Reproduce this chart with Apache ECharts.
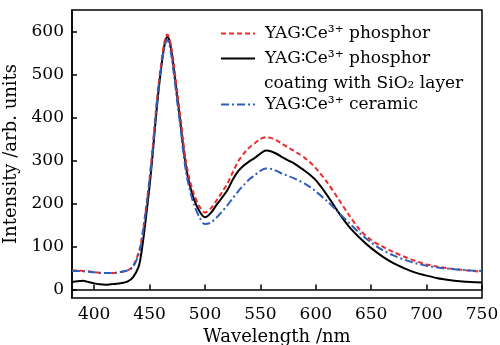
<!DOCTYPE html>
<html>
<head>
<meta charset="utf-8">
<script src="https://cdn.jsdelivr.net/npm/echarts@6/dist/echarts.min.js"></script>
<style>html,body{margin:0;padding:0;background:#fff}#c{width:500px;height:345px}</style>
</head>
<body>
<div id="c"></div>
<script>
const wavelengths = [380,385,390,395,400,405,410,415,420,425,430,435,440,442,445,448,450,453,455,458,460,462,464,466,468,470,472,475,478,480,483,486,490,495,500,505,510,515,520,525,530,535,540,545,550,555,560,565,570,575,580,585,590,595,600,610,620,630,640,650,660,670,680,690,700,710,720,730,740,750];
const phosphor = [44,44,43,42,40,39,38,38,39,41,44,54,85,105,155,215,258,335,395,475,515,555,582,593,583,557,522,458,398,352,295,257,222,193,179,188,205,225,245,272,298,316,330,340,350,354,352,346,338,330,323,315,306,295,282,250,212,173,138,115,100,87,76,66,58,53,49,46,43,41];
const coated = [17,19,20,17,14,12,11,12,13,15,18,28,52,75,130,195,240,320,380,460,505,545,575,588,578,550,512,448,385,340,283,245,210,182,168,177,195,212,230,255,275,288,298,306,316,323,321,315,307,300,294,285,276,266,254,220,181,146,119,96,77,61,49,39,32,26,22,19,17,16];
const ceramic = [43,43,42,41,40,38,38,38,39,41,44,52,80,100,150,210,255,330,390,468,508,545,570,580,568,538,500,435,375,328,272,235,198,168,152,155,166,180,195,212,228,243,256,266,276,281,280,275,269,264,259,253,246,238,228,206,180,155,130,109,92,79,69,61,55,51,48,46,44,43];
const xTicks = [400,450,500,550,600,650,700,750];
const yTicks = [0,100,200,300,400,500,600];
const seriesNames = ['YAG∶Ce³⁺ phosphor', 'YAG∶Ce³⁺ phosphor ', 'YAG∶Ce³⁺ ceramic'];

const FONT = 'DejaVu Serif';
const pair = arr => wavelengths.map((w, i) => [w, arr[i]]);
const chart = echarts.init(document.getElementById('c'), null, {renderer: 'canvas'});
const legendBase = {
  left: 220, padding: 0, itemWidth: 34, itemHeight: 14, itemGap: 0,
  itemStyle: {opacity: 0},
  textStyle: {fontFamily: FONT, fontSize: 17, color: '#000', padding: [0, 0, 0, 5]},
  selectedMode: false
};
chart.setOption({
  animation: false,
  grid: {left: 72, right: 18, top: 10, bottom: 47, show: true, borderColor: '#000', borderWidth: 1.5,
         outerBoundsMode: 'none', containLabel: false},
  legend: [
    Object.assign({}, legendBase, {top: 25, data: [seriesNames[0]]}),
    Object.assign({}, legendBase, {top: 50, data: [seriesNames[1]]}),
    Object.assign({}, legendBase, {top: 96, data: [seriesNames[2]]})
  ],
  graphic: [{
    type: 'text', left: 264, top: 75,
    style: {text: 'coating with SiO₂ layer', fontFamily: FONT, fontSize: 17, fill: '#000'}
  }],
  xAxis: {
    type: 'value', min: 380, max: 750,
    name: 'Wavelength /nm', nameLocation: 'middle', nameGap: 23,
    nameTextStyle: {fontFamily: FONT, fontSize: 18, color: '#000'},
    axisLine: {show: true, lineStyle: {color: '#000', width: 1.5}},
    axisTick: {show: true, inside: true, length: 5, customValues: xTicks, lineStyle: {color: '#000', width: 1.5}},
    axisLabel: {customValues: xTicks, fontFamily: FONT, fontSize: 17, color: '#000', margin: 8},
    splitLine: {show: false}
  },
  yAxis: {
    type: 'value', min: -20, max: 650,
    name: 'Intensity /arb. units', nameLocation: 'middle', nameGap: 42, nameRotate: 90,
    nameTextStyle: {fontFamily: FONT, fontSize: 18, color: '#000'},
    axisLine: {show: true, lineStyle: {color: '#000', width: 1.5}},
    axisTick: {show: true, inside: true, length: 5, customValues: yTicks, lineStyle: {color: '#000', width: 1.5}},
    axisLabel: {customValues: yTicks, fontFamily: FONT, fontSize: 17, color: '#000', margin: 8},
    splitLine: {show: false}
  },
  series: [
    {name: seriesNames[0], type: 'line', data: pair(phosphor), showSymbol: false, symbol: 'none', smooth: 0.3, z: 3,
     lineStyle: {color: '#ee2b2b', width: 2, type: [5, 3]}, itemStyle: {color: '#ee2b2b'}},
    {name: seriesNames[1], type: 'line', data: pair(coated), showSymbol: false, symbol: 'none', smooth: 0.3, z: 2,
     lineStyle: {color: '#000', width: 2}, itemStyle: {color: '#000'}},
    {name: seriesNames[2], type: 'line', data: pair(ceramic), showSymbol: false, symbol: 'none', smooth: 0.3, z: 4,
     lineStyle: {color: '#2f5fb8', width: 2, type: [8, 3, 2, 3]}, itemStyle: {color: '#2f5fb8'}}
  ]
});
</script>
</body>
</html>
